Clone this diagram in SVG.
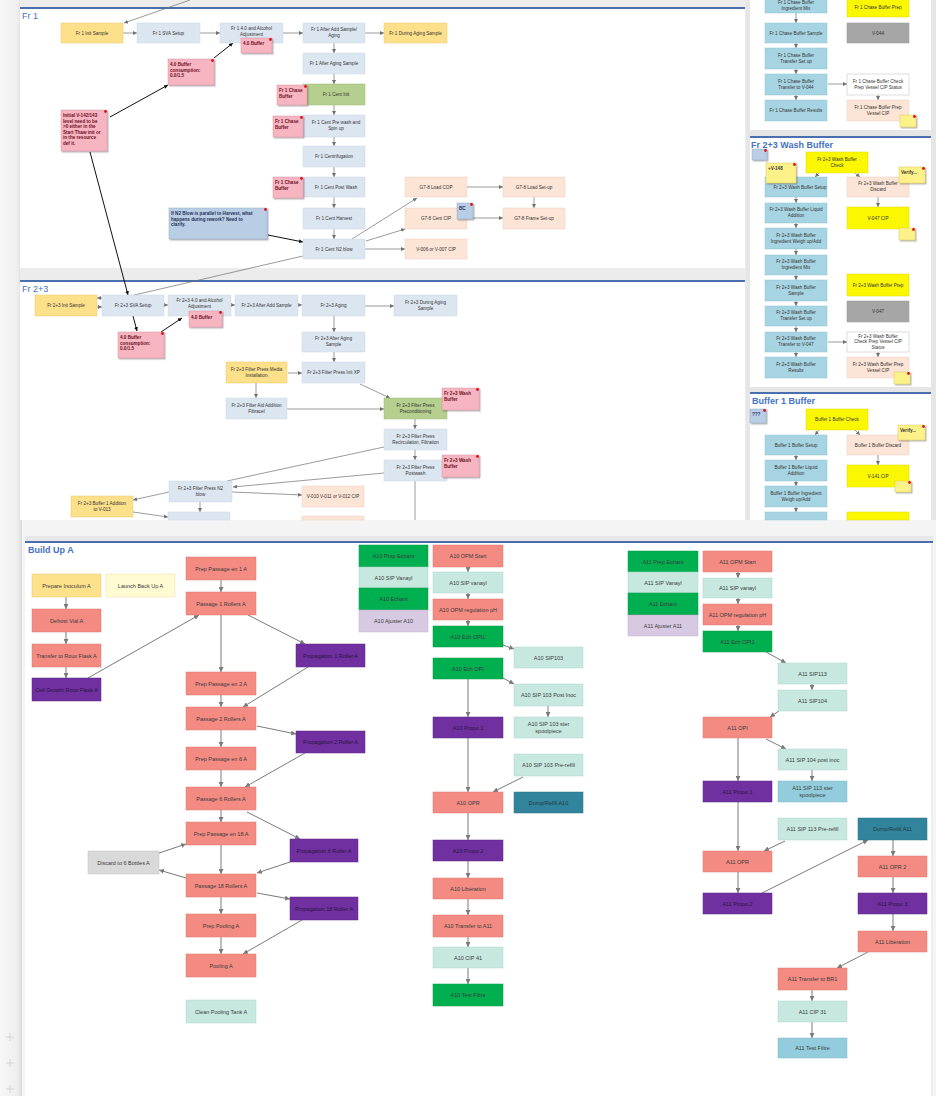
<svg xmlns="http://www.w3.org/2000/svg" width="936" height="1096" viewBox="0 0 936 1096">
<defs>
<style>
text{font-family:"Liberation Sans",Arial,sans-serif}
.t{font-size:4.6px;fill:#333;text-anchor:middle}
.tn{font-size:4.6px;fill:#6d0f1e;font-weight:bold}
.tbn{font-size:4.6px;fill:#1f2f55;font-weight:bold}
.b{font-size:5.5px;fill:#3a3a3a;text-anchor:middle}
.bp{font-size:5.5px;fill:#2a1540;text-anchor:middle}
.title{font-size:9px;fill:#4472c4}
.titleb{font-size:9px;fill:#4472c4;font-weight:bold}
.fr{fill:#dce6f1;stroke:#cbd7e6;stroke-width:0.5}
.yl{fill:#fde08a;stroke:#e8c86a;stroke-width:0.5}
.pk{fill:#f7b5c2;stroke:#d895a3;stroke-width:0.5;filter:url(#sh)}
.pe{fill:#fce4d6;stroke:#ecd0c0;stroke-width:0.5}
.gr{fill:#b5cf8e;stroke:#a0bb7a;stroke-width:0.5}
.bn{fill:#b9cde5;stroke:#95acc9;stroke-width:0.5;filter:url(#sh)}
.tb{fill:#a7d4e2;stroke:#8fc1d1;stroke-width:0.5}
.by{fill:#fbf700;stroke:#dcd800;stroke-width:0.5}
.gy{fill:#a6a6a6;stroke:#999;stroke-width:0.5}
.wh{fill:#ffffff;stroke:#bdbdbd;stroke-width:0.5}
.ys{fill:#fdf28a;stroke:#d8c860;stroke-width:0.5;filter:url(#sh)}
.sa{fill:#f38b83;stroke:#e07a72;stroke-width:0.5}
.pu{fill:#7030a0;stroke:#5e2488;stroke-width:0.5}
.mi{fill:#c6e8df;stroke:#b0d6cc;stroke-width:0.5}
.gn{fill:#00b050;stroke:#009a45;stroke-width:0.5}
.la{fill:#d8c9e2;stroke:#c6b5d2;stroke-width:0.5}
.te{fill:#31849b;stroke:#2a7389;stroke-width:0.5}
.lb{fill:#93cddd;stroke:#7fbccc;stroke-width:0.5}
.dg{fill:#d9d9d9;stroke:#c4c4c4;stroke-width:0.5}
.ly{fill:#fffbd2;stroke:#e9e2a8;stroke-width:0.5}
.dot{fill:#e0101a}
.c{fill:none;stroke:#707070;stroke-width:0.7;marker-end:url(#a)}
.cn{fill:none;stroke:#707070;stroke-width:0.7}
.ck{fill:none;stroke:#111;stroke-width:1;marker-end:url(#k)}
.ckn{fill:none;stroke:#111;stroke-width:1}
.cb{fill:none;stroke:#7a7a7a;stroke-width:1;marker-end:url(#ab)}
.sep{stroke:#4a6fae;stroke-width:2}
</style>
<marker id="a" markerUnits="userSpaceOnUse" markerWidth="4" markerHeight="4" refX="4" refY="2" orient="auto"><path d="M0,0 L4,2 L0,4 z" fill="#707070"/></marker>
<marker id="k" markerUnits="userSpaceOnUse" markerWidth="4" markerHeight="4" refX="4" refY="2" orient="auto"><path d="M0,0 L4,2 L0,4 z" fill="#111"/></marker>
<marker id="ab" markerUnits="userSpaceOnUse" markerWidth="5" markerHeight="5" refX="5" refY="2.5" orient="auto"><path d="M0,0 L5,2.5 L0,5 z" fill="#7a7a7a"/></marker>
<filter id="sh" x="-20%" y="-20%" width="150%" height="150%"><feDropShadow dx="1.2" dy="1.2" stdDeviation="0.5" flood-color="#000" flood-opacity="0.35"/></filter>
<linearGradient id="lm" x1="0" x2="1" y1="0" y2="0"><stop offset="0" stop-color="#f7f7f7"/><stop offset="0.8" stop-color="#eeeeee"/><stop offset="1" stop-color="#d9d9d9"/></linearGradient>
</defs>

<!-- backgrounds -->
<rect x="0" y="0" width="936" height="1096" fill="#f4f4f4"/>
<rect x="0" y="0" width="22" height="1096" fill="url(#lm)"/>
<rect x="20" y="0" width="726" height="520" fill="#ececec"/>
<rect x="20" y="9" width="725" height="259" fill="#ffffff"/>
<rect x="20" y="282" width="725" height="238" fill="#ffffff"/>
<line class="sep" x1="20" y1="8" x2="745" y2="8"/>
<line class="sep" x1="20" y1="281" x2="745" y2="281"/>
<rect x="746" y="0" width="190" height="520" fill="#e6e6e6"/>
<rect x="750" y="0" width="181" height="130" fill="#ffffff"/>
<rect x="750" y="138" width="181" height="249" fill="#ffffff"/>
<rect x="750" y="394" width="181" height="126" fill="#ffffff"/>
<line class="sep" x1="750" y1="137" x2="931" y2="137"/>
<line class="sep" x1="750" y1="393" x2="931" y2="393"/>
<rect x="25" y="536" width="908" height="560" fill="#ffffff"/>
<rect x="25" y="536" width="908" height="5" fill="#e8e8e8"/>
<line class="sep" x1="25" y1="542" x2="933" y2="542"/>
<line x1="932" y1="543" x2="932" y2="1096" stroke="#dcdcdc" stroke-width="1"/>
<g stroke="#c8c8c8" stroke-width="0.7">
<line x1="6" y1="1037" x2="14" y2="1037"/><line x1="10" y1="1033" x2="10" y2="1041"/>
<line x1="6" y1="1063" x2="14" y2="1063"/><line x1="10" y1="1059" x2="10" y2="1067"/>
<line x1="6" y1="1089" x2="14" y2="1089"/><line x1="10" y1="1085" x2="10" y2="1093"/>
</g>

<text class="title" x="22" y="19">Fr 1</text>
<text class="title" x="22" y="292">Fr 2+3</text>
<text class="titleb" x="751" y="148">Fr 2+3 Wash Buffer</text>
<text class="titleb" x="752" y="404">Buffer 1 Buffer</text>
<text class="titleb" x="28" y="553" font-size="10">Build Up A</text>

<!-- connectors -->
<g id="connectors">
<path class="c" d="M190,0 L124,23"/>
<path class="c" d="M123,33 L137,33"/>
<path class="c" d="M200,33 L220,33"/>
<path class="c" d="M283,33 L303,33"/>
<path class="c" d="M365,33 L384,33"/>
<path class="c" d="M334,43 L334,53"/>
<path class="c" d="M334,74 L334,84"/>
<path class="c" d="M334,105 L334,115"/>
<path class="c" d="M334,137 L334,146"/>
<path class="c" d="M334,167 L334,177"/>
<path class="c" d="M334,197 L334,208"/>
<path class="c" d="M334,229 L334,239"/>
<path class="ck" d="M110,117 L168,85"/>
<path class="ck" d="M214,58 L233,43"/>
<path class="ck" d="M268,235 L303,242"/>
<path class="ck" d="M90,152 L128,295"/>
<path class="cn" d="M303,256 L130,296"/>
<path class="c" d="M352,239 L417,198"/>
<path class="c" d="M366,241 L405,229"/>
<path class="c" d="M365,249 L405,249"/>
<path class="c" d="M467,187 L503,187"/>
<path class="c" d="M534,197 L534,208"/>
<path class="c" d="M473,218 L503,218"/>
<!-- Fr 2+3 -->
<path class="c" d="M102,298 L97,298"/>
<path class="c" d="M97,307 L102,307"/>
<path class="c" d="M164,305 L168,305"/>
<path class="c" d="M231,305 L235,305"/>
<path class="c" d="M298,305 L302,305"/>
<path class="c" d="M365,306 L394,306"/>
<path class="ck" d="M133,316 L137,331"/>
<path class="ck" d="M161,332 L182,318"/>
<path class="c" d="M334,316 L334,332"/>
<path class="c" d="M334,352 L334,362"/>
<path class="c" d="M288,373 L302,373"/>
<path class="c" d="M256,383 L256,398"/>
<path class="c" d="M360,384 L390,398"/>
<path class="c" d="M287,409 L384,409"/>
<path class="c" d="M415,419 L415,429"/>
<path class="c" d="M415,450 L415,460"/>
<path class="cn" d="M415,481 L415,520"/>
<path class="cn" d="M384,447 L227,481"/>
<path class="c" d="M384,473 L233,487"/>
<path class="c" d="M232,492 L302,495"/>
<path class="c" d="M169,492 L133,500"/>
<path class="c" d="M200,502 L200,512"/>
<path class="c" d="M133,512 L168,517"/>
<!-- right panels -->
<path class="c" d="M796,13 L796,23"/>
<path class="c" d="M796,43 L796,48"/>
<path class="c" d="M796,69 L796,74"/>
<path class="c" d="M796,95 L796,100"/>
<path class="c" d="M828,84 L847,84"/>
<path class="c" d="M878,95 L878,100"/>
<path class="c" d="M819,173 L815,177"/>
<path class="c" d="M855,173 L860,177"/>
<path class="c" d="M878,197 L878,207"/>
<path class="c" d="M796,197 L796,203"/>
<path class="c" d="M796,223 L796,228"/>
<path class="c" d="M796,249 L796,255"/>
<path class="c" d="M796,275 L796,280"/>
<path class="c" d="M796,301 L796,306"/>
<path class="c" d="M796,326 L796,332"/>
<path class="c" d="M796,352 L796,357"/>
<path class="c" d="M828,342 L847,342"/>
<path class="c" d="M878,352 L878,357"/>
<path class="c" d="M819,430 L815,435"/>
<path class="c" d="M855,430 L860,435"/>
<path class="c" d="M878,455 L878,465"/>
<path class="c" d="M796,455 L796,460"/>
<path class="c" d="M796,481 L796,486"/>
<path class="c" d="M796,507 L796,512"/>
<!-- Build Up A -->
<path class="cb" d="M66,597 L66,609"/>
<path class="cb" d="M66,632 L66,644"/>
<path class="cb" d="M66,667 L66,678"/>
<path class="cb" d="M88,678 L199,615"/>
<path class="cb" d="M221,580 L221,592"/>
<path class="cb" d="M221,615 L221,672"/>
<path class="cb" d="M248,615 L305,644"/>
<path class="cb" d="M308,667 L243,707"/>
<path class="cb" d="M221,695 L221,707"/>
<path class="cb" d="M257,726 L296,734"/>
<path class="cb" d="M221,730 L221,747"/>
<path class="cb" d="M305,753 L245,787"/>
<path class="cb" d="M221,770 L221,787"/>
<path class="cb" d="M221,810 L221,822"/>
<path class="cb" d="M247,812 L300,839"/>
<path class="cb" d="M221,845 L221,874"/>
<path class="cb" d="M159,853 L186,844"/>
<path class="cb" d="M186,878 L159,870"/>
<path class="cb" d="M290,862 L257,873"/>
<path class="cb" d="M257,893 L290,899"/>
<path class="cb" d="M221,897 L221,914"/>
<path class="cb" d="M221,937 L221,954"/>
<path class="cb" d="M302,920 L243,954"/>
<!-- A10 -->
<path class="cb" d="M468,567 L468,572"/>
<path class="cb" d="M468,593 L468,599"/>
<path class="cb" d="M468,620 L468,626"/>
<path class="cb" d="M503,645 L514,649"/>
<path class="cb" d="M503,678 L514,684"/>
<path class="cb" d="M548,706 L548,717"/>
<path class="cb" d="M468,679 L468,717"/>
<path class="cb" d="M468,738 L468,792"/>
<path class="cb" d="M523,777 L493,792"/>
<path class="cb" d="M468,813 L468,840"/>
<path class="cb" d="M468,861 L468,878"/>
<path class="cb" d="M468,899 L468,915"/>
<path class="cb" d="M468,937 L468,947"/>
<path class="cb" d="M468,968 L468,984"/>
<!-- A11 -->
<path class="cb" d="M738,572 L738,578"/>
<path class="cb" d="M738,598 L738,604"/>
<path class="cb" d="M738,625 L738,631"/>
<path class="cb" d="M766,652 L786,663"/>
<path class="cb" d="M812,684 L812,690"/>
<path class="cb" d="M779,711 L770,717"/>
<path class="cb" d="M766,739 L786,749"/>
<path class="cb" d="M812,770 L812,781"/>
<path class="cb" d="M738,738 L738,781"/>
<path class="cb" d="M738,802 L738,851"/>
<path class="cb" d="M785,841 L764,851"/>
<path class="cb" d="M738,872 L738,893"/>
<path class="cb" d="M762,893 L868,840"/>
<path class="cb" d="M893,840 L893,856"/>
<path class="cb" d="M893,877 L893,893"/>
<path class="cb" d="M893,914 L893,931"/>
<path class="cb" d="M868,952 L837,968"/>
<path class="cb" d="M812,990 L812,1001"/>
<path class="cb" d="M812,1022 L812,1038"/>
</g>

<!-- Fr 1 nodes -->
<g id="f1_init"><rect class="yl" x="61" y="23" width="62" height="20"/><text class="t" x="92" y="34.5">Fr 1 Init Sample</text></g>
<g id="f1_sva"><rect class="fr" x="137" y="23" width="63" height="20"/><text class="t" x="168.5" y="34.5">Fr 1 SVA Setup</text></g>
<g id="f1_adj"><rect class="fr" x="220" y="23" width="63" height="20"/><text class="t" x="251.5" y="30">Fr 1 4.0 and Alcohol</text><text class="t" x="251.5" y="35.5">Adjustment</text></g>
<g id="f1_buf"><rect class="pk" x="241" y="38" width="31" height="15"/><circle class="dot" cx="270.5" cy="39.5" r="1.4"/><text class="tn" x="243" y="45">4.0 Buffer</text></g>
<g id="f1_after"><rect class="fr" x="303" y="23" width="62" height="20"/><text class="t" x="334" y="31">Fr 1 After Add Sample/</text><text class="t" x="334" y="37">Aging</text></g>
<g id="f1_during"><rect class="yl" x="384" y="23" width="63" height="20"/><text class="t" x="415.5" y="34.5">Fr 1 During Aging Sample</text></g>
<g id="f1_cons"><rect class="pk" x="168" y="59" width="46" height="26"/><circle class="dot" cx="212.5" cy="60.5" r="1.4"/><text class="tn" x="170" y="66">4.0 Buffer</text><text class="tn" x="170" y="71.5">consumption:</text><text class="tn" x="170" y="77">0.0/1.5</text></g>
<g id="f1_note_init"><rect class="pk" x="61" y="110" width="46" height="41"/><circle class="dot" cx="105.5" cy="111.5" r="1.4"/><text class="tn" x="63" y="117">Initial V-142/143</text><text class="tn" x="63" y="122.5">level need to be</text><text class="tn" x="63" y="128">&gt;0 either in the</text><text class="tn" x="63" y="133.5">Start Thaw init or</text><text class="tn" x="63" y="139">in the resource</text><text class="tn" x="63" y="144.5">def it.</text></g>
<g id="f1_aas"><rect class="fr" x="303" y="53" width="62" height="21"/><text class="t" x="334" y="65">Fr 1 After Aging Sample</text></g>
<g id="f1_cinit"><rect class="gr" x="303" y="84" width="62" height="21"/><text class="t" x="336" y="96">Fr 1 Cent Init</text></g>
<g id="f1_chase1"><rect class="pk" x="277" y="85" width="30" height="20"/><circle class="dot" cx="305.5" cy="86.5" r="1.4"/><text class="tn" x="279" y="92">Fr 1 Chase</text><text class="tn" x="279" y="97.5">Buffer</text></g>
<g id="f1_prewash"><rect class="fr" x="303" y="115" width="62" height="22"/><text class="t" x="336" y="124">Fr 1 Cent Pre wash and</text><text class="t" x="336" y="130">Spin up</text></g>
<g id="f1_chase2"><rect class="pk" x="273" y="116" width="30" height="21"/><circle class="dot" cx="301.5" cy="117.5" r="1.4"/><text class="tn" x="275" y="123">Fr 1 Chase</text><text class="tn" x="275" y="128.5">Buffer</text></g>
<g id="f1_centri"><rect class="fr" x="303" y="146" width="62" height="21"/><text class="t" x="334" y="158">Fr 1 Centrifugation</text></g>
<g id="f1_post"><rect class="fr" x="303" y="177" width="62" height="20"/><text class="t" x="336" y="188.5">Fr 1 Cent Post Wash</text></g>
<g id="f1_chase3"><rect class="pk" x="273" y="177" width="30" height="21"/><circle class="dot" cx="301.5" cy="178.5" r="1.4"/><text class="tn" x="275" y="184">Fr 1 Chase</text><text class="tn" x="275" y="189.5">Buffer</text></g>
<g id="f1_harv"><rect class="fr" x="303" y="208" width="62" height="21"/><text class="t" x="334" y="220">Fr 1 Cent Harvest</text></g>
<g id="f1_n2"><rect class="fr" x="303" y="239" width="62" height="20"/><text class="t" x="334" y="250.5">Fr 1 Cent N2 blow</text></g>
<g id="f1_note_n2"><rect class="bn" x="169" y="208" width="98" height="31"/><circle class="dot" cx="265.5" cy="209.5" r="1.4"/><text class="tbn" x="171" y="215">If N2 Blow is parallel to Harvest, what</text><text class="tbn" x="171" y="220.5">happens during rework?  Need to</text><text class="tbn" x="171" y="226">clarify.</text></g>
<g id="g78_lcop"><rect class="pe" x="405" y="177" width="62" height="20"/><text class="t" x="436" y="188.5">G7-8 Load COP</text></g>
<g id="g78_lset"><rect class="pe" x="503" y="177" width="62" height="20"/><text class="t" x="534" y="188.5">G7-8 Load Set-up</text></g>
<g id="g78_ccip"><rect class="pe" x="405" y="208" width="62" height="21"/><text class="t" x="436" y="220">G7-8 Cent CIP</text></g>
<g id="g78_bc"><rect class="bn" x="457" y="203" width="16" height="16"/><circle class="dot" cx="471.5" cy="204.5" r="1.4"/><text class="tbn" x="459" y="210">BC</text></g>
<g id="g78_fset"><rect class="pe" x="503" y="208" width="62" height="21"/><text class="t" x="534" y="220">G7-8 Frame Set-up</text></g>
<g id="v006"><rect class="pe" x="405" y="239" width="62" height="20"/><text class="t" x="436" y="250.5">V-006 or V-007 CIP</text></g>

<!-- Fr 2+3 nodes -->
<g id="f2_init"><rect class="yl" x="35" y="295" width="62" height="21"/><text class="t" x="66" y="307">Fr 2+3 Init Sample</text></g>
<g id="f2_sva"><rect class="fr" x="102" y="295" width="62" height="21"/><text class="t" x="133" y="307">Fr 2+3 SVA Setup</text></g>
<g id="f2_adj"><rect class="fr" x="168" y="295" width="63" height="21"/><text class="t" x="199.5" y="302">Fr 2+3 4.0 and Alcohol</text><text class="t" x="199.5" y="307.5">Adjustment</text></g>
<g id="f2_buf"><rect class="pk" x="189" y="311" width="33" height="16"/><circle class="dot" cx="220.5" cy="312.5" r="1.4"/><text class="tn" x="191" y="318.5">4.0 Buffer</text></g>
<g id="f2_after"><rect class="fr" x="235" y="295" width="63" height="21"/><text class="t" x="266.5" y="307">Fr 2+3 After Add Sample</text></g>
<g id="f2_aging"><rect class="fr" x="302" y="295" width="63" height="21"/><text class="t" x="333.5" y="307">Fr 2+3 Aging</text></g>
<g id="f2_during"><rect class="fr" x="394" y="295" width="63" height="21"/><text class="t" x="425.5" y="304">Fr 2+3 During Aging</text><text class="t" x="425.5" y="310">Sample</text></g>
<g id="f2_cons"><rect class="pk" x="118" y="332" width="46" height="26"/><circle class="dot" cx="162.5" cy="333.5" r="1.4"/><text class="tn" x="120" y="339">4.0 Buffer</text><text class="tn" x="120" y="344.5">consumption:</text><text class="tn" x="120" y="350">0.0/1.5</text></g>
<g id="f2_aas"><rect class="fr" x="302" y="332" width="63" height="20"/><text class="t" x="333.5" y="340">Fr 2+3 After Aging</text><text class="t" x="333.5" y="346">Sample</text></g>
<g id="f2_initxp"><rect class="fr" x="302" y="362" width="63" height="21"/><text class="t" x="333.5" y="374">Fr 2+3 Filter Press Init XP</text></g>
<g id="f2_media"><rect class="yl" x="226" y="362" width="61" height="21"/><text class="t" x="256.5" y="370.5">Fr 2+3 Filter Press Media</text><text class="t" x="256.5" y="376.5">Installation</text></g>
<g id="f2_aid"><rect class="fr" x="226" y="398" width="61" height="21"/><text class="t" x="256.5" y="406.5">Fr 2+3 Filter Aid Addition</text><text class="t" x="256.5" y="412.5">Fibracel</text></g>
<g id="f2_precond"><rect class="gr" x="384" y="398" width="63" height="21"/><text class="t" x="415.5" y="406.5">Fr 2+3 Filter Press</text><text class="t" x="415.5" y="412.5">Preconditioning</text></g>
<g id="f2_wash1"><rect class="pk" x="442" y="388" width="37" height="22"/><circle class="dot" cx="477.5" cy="389.5" r="1.4"/><text class="tn" x="444" y="395">Fr 2+3 Wash</text><text class="tn" x="444" y="400.5">Buffer</text></g>
<g id="f2_recirc"><rect class="fr" x="384" y="429" width="63" height="21"/><text class="t" x="415.5" y="437.5">Fr 2+3 Filter Press</text><text class="t" x="415.5" y="443.5">Recirculation, Filtration</text></g>
<g id="f2_postwash"><rect class="fr" x="384" y="460" width="63" height="21"/><text class="t" x="415.5" y="468.5">Fr 2+3 Filter Press</text><text class="t" x="415.5" y="474.5">Postwash</text></g>
<g id="f2_wash2"><rect class="pk" x="442" y="455" width="37" height="22"/><circle class="dot" cx="477.5" cy="456.5" r="1.4"/><text class="tn" x="444" y="462">Fr 2+3 Wash</text><text class="tn" x="444" y="467.5">Buffer</text></g>
<g id="f2_n2"><rect class="fr" x="169" y="481" width="63" height="21"/><text class="t" x="200.5" y="489.5">Fr 2+3 Filter Press N2</text><text class="t" x="200.5" y="495.5">blow</text></g>
<g id="f2_v010"><rect class="pe" x="302" y="486" width="62" height="21"/><text class="t" x="333" y="498">V-010 V-011 or V-012 CIP</text></g>
<g id="f2_buf1"><rect class="yl" x="71" y="496" width="62" height="21"/><text class="t" x="102" y="504.5">Fr 2+3 Buffer 1 Addition</text><text class="t" x="102" y="510.5">to V-013</text></g>
<g id="f2_clip1"><rect class="fr" x="168" y="512" width="62" height="8"/></g>
<g id="f2_clip2"><rect class="pe" x="302" y="516" width="62" height="4"/></g>

<!-- Right panel 1 -->
<g id="r1_mix"><rect class="tb" x="765" y="-2" width="62" height="15"/><text class="t" x="796" y="4">Fr 1 Chase Buffer</text><text class="t" x="796" y="10">Ingredient Mix</text></g>
<g id="r1_prep"><rect class="by" x="847" y="-2" width="62" height="19"/><text class="t" x="878" y="8.5">Fr 1 Chase Buffer Prep</text></g>
<g id="r1_v044"><rect class="gy" x="847" y="23" width="62" height="20"/><text class="t" x="878" y="34.5">V-044</text></g>
<g id="r1_sample"><rect class="tb" x="765" y="23" width="62" height="20"/><text class="t" x="796" y="34.5">Fr 1 Chase Buffer Sample</text></g>
<g id="r1_tset"><rect class="tb" x="765" y="48" width="62" height="21"/><text class="t" x="796" y="56.5">Fr 1 Chase Buffer</text><text class="t" x="796" y="62.5">Transfer Set up</text></g>
<g id="r1_tv044"><rect class="tb" x="765" y="74" width="62" height="21"/><text class="t" x="796" y="82.5">Fr 1 Chase Buffer</text><text class="t" x="796" y="88.5">Transfer to V-044</text></g>
<g id="r1_results"><rect class="tb" x="765" y="100" width="62" height="21"/><text class="t" x="796" y="112">Fr 1 Chase Buffer Results</text></g>
<g id="r1_check"><rect class="wh" x="847" y="74" width="62" height="21"/><text class="t" x="878" y="82.5">Fr 1 Chase Buffer Check</text><text class="t" x="878" y="88.5">Prep Vessel CIP Status</text></g>
<g id="r1_pvcip"><rect class="pe" x="847" y="100" width="62" height="21"/><text class="t" x="878" y="108.5">Fr 1 Chase Buffer Prep</text><text class="t" x="878" y="114.5">Vessel CIP</text></g>
<g id="r1_sticky"><rect class="ys" x="900" y="115" width="16" height="12"/><circle class="dot" cx="914.5" cy="116.5" r="1.4"/></g>

<!-- Right panel 2 -->
<g id="r2_blue"><rect class="bn" x="752" y="149" width="15" height="11"/><circle class="dot" cx="765.5" cy="150.5" r="1.4"/></g>
<g id="r2_check"><rect class="by" x="806" y="152" width="62" height="21"/><text class="t" x="837" y="160.5">Fr 2+3 Wash Buffer</text><text class="t" x="837" y="166.5">Check</text></g>
<g id="r2_setup"><rect class="tb" x="765" y="177" width="62" height="20"/><text class="t" x="800" y="188.5">Fr 2+3 Wash Buffer Setup</text></g>
<g id="r2_v148"><rect class="ys" x="766" y="163" width="30" height="20"/><circle class="dot" cx="794.5" cy="164.5" r="1.4"/><text class="tn" x="768" y="169.5" fill="#333" style="fill:#333">+V-148</text></g>
<g id="r2_discard"><rect class="pe" x="847" y="177" width="62" height="20"/><text class="t" x="878" y="185">Fr 2+3 Wash Buffer</text><text class="t" x="878" y="191">Discard</text></g>
<g id="r2_verify"><rect class="ys" x="899" y="167" width="26" height="16"/><circle class="dot" cx="923.5" cy="168.5" r="1.4"/><text class="tn" x="901" y="174" style="fill:#333">Verify...</text></g>
<g id="r2_v047cip"><rect class="by" x="847" y="207" width="62" height="22"/><text class="t" x="878" y="219.5">V-047 CIP</text></g>
<g id="r2_sticky2"><rect class="ys" x="899" y="228" width="16" height="12"/><circle class="dot" cx="913.5" cy="229.5" r="1.4"/></g>
<g id="r2_liq"><rect class="tb" x="765" y="203" width="62" height="20"/><text class="t" x="796" y="211">Fr 2+3 Wash Buffer Liquid</text><text class="t" x="796" y="217">Addition</text></g>
<g id="r2_weigh"><rect class="tb" x="765" y="228" width="62" height="21"/><text class="t" x="796" y="236.5">Fr 2+3 Wash Buffer</text><text class="t" x="796" y="242.5">Ingredient Weigh up/Add</text></g>
<g id="r2_mix"><rect class="tb" x="765" y="255" width="62" height="20"/><text class="t" x="796" y="263">Fr 2+3 Wash Buffer</text><text class="t" x="796" y="269">Ingredient Mix</text></g>
<g id="r2_sample"><rect class="tb" x="765" y="280" width="62" height="21"/><text class="t" x="796" y="288.5">Fr 2+3 Wash Buffer</text><text class="t" x="796" y="294.5">Sample</text></g>
<g id="r2_tset"><rect class="tb" x="765" y="306" width="62" height="20"/><text class="t" x="796" y="314">Fr 2+3 Wash Buffer</text><text class="t" x="796" y="320">Transfer Set up</text></g>
<g id="r2_tv047"><rect class="tb" x="765" y="332" width="62" height="20"/><text class="t" x="796" y="340">Fr 2+3 Wash Buffer</text><text class="t" x="796" y="346">Transfer to V-047</text></g>
<g id="r2_results"><rect class="tb" x="765" y="357" width="62" height="21"/><text class="t" x="796" y="365.5">Fr 2+3 Wash Buffer</text><text class="t" x="796" y="371.5">Results</text></g>
<g id="r2_prep"><rect class="by" x="847" y="274" width="62" height="22"/><text class="t" x="878" y="286.5">Fr 2+3 Wash Buffer Prep</text></g>
<g id="r2_v047"><rect class="gy" x="847" y="301" width="62" height="21"/><text class="t" x="878" y="313">V-047</text></g>
<g id="r2_checkcip"><rect class="wh" x="847" y="332" width="62" height="20"/><text class="t" x="878" y="337.5">Fr 2+3 Wash Buffer</text><text class="t" x="878" y="343.3">Check Prep Vessel CIP</text><text class="t" x="878" y="349.1">Status</text></g>
<g id="r2_pvcip"><rect class="pe" x="847" y="357" width="62" height="21"/><text class="t" x="878" y="365.5">Fr 2+3 Wash Buffer Prep</text><text class="t" x="878" y="371.5">Vessel CIP</text></g>
<g id="r2_sticky3"><rect class="ys" x="894" y="372" width="16" height="12"/><circle class="dot" cx="908.5" cy="373.5" r="1.4"/></g>

<!-- Right panel 3 -->
<g id="r3_q"><rect class="bn" x="750" y="409" width="16" height="14"/><circle class="dot" cx="764.5" cy="410.5" r="1.4"/><text class="tbn" x="752" y="416">???</text></g>
<g id="r3_check"><rect class="by" x="806" y="409" width="62" height="21"/><text class="t" x="837" y="421">Buffer 1 Buffer Check</text></g>
<g id="r3_setup"><rect class="tb" x="765" y="435" width="62" height="20"/><text class="t" x="796" y="446.5">Buffer 1 Buffer Setup</text></g>
<g id="r3_discard"><rect class="pe" x="847" y="435" width="62" height="20"/><text class="t" x="878" y="446.5">Buffer 1 Buffer Discard</text></g>
<g id="r3_verify"><rect class="ys" x="898" y="425" width="27" height="15"/><circle class="dot" cx="923.5" cy="426.5" r="1.4"/><text class="tn" x="900" y="432" style="fill:#333">Verify...</text></g>
<g id="r3_v141"><rect class="by" x="847" y="465" width="62" height="22"/><text class="t" x="878" y="477.5">V-141 CIP</text></g>
<g id="r3_sticky"><rect class="ys" x="895" y="481" width="16" height="11"/><circle class="dot" cx="909.5" cy="482.5" r="1.4"/></g>
<g id="r3_liq"><rect class="tb" x="765" y="460" width="62" height="21"/><text class="t" x="796" y="468.5">Buffer 1 Buffer Liquid</text><text class="t" x="796" y="474.5">Addition</text></g>
<g id="r3_weigh"><rect class="tb" x="765" y="486" width="62" height="21"/><text class="t" x="796" y="494.5">Buffer 1 Buffer Ingredient</text><text class="t" x="796" y="500.5">Weigh up/Add</text></g>
<g id="r3_clip1"><rect class="tb" x="765" y="512" width="62" height="8"/></g>
<g id="r3_clip2"><rect class="by" x="847" y="512" width="62" height="8"/></g>

<!-- Build Up A nodes -->
<g id="b_prep_inoc"><rect x="32" y="574" width="69" height="23" fill="#fde18b" stroke="#e8c96c" stroke-width="0.5"/><text class="b" x="66.5" y="587.5">Prepare Inoculum A</text></g>
<g id="b_launch"><rect class="ly" x="106" y="574" width="69" height="23"/><text class="b" x="140.5" y="587.5">Launch Back Up A</text></g>
<g id="b_defrost"><rect class="sa" x="32" y="609" width="69" height="23"/><text class="b" x="66.5" y="622.5">Defrost Vial A</text></g>
<g id="b_transfer"><rect class="sa" x="32" y="644" width="69" height="23"/><text class="b" x="66.5" y="657.5">Transfer to Roux Flask A</text></g>
<g id="b_cellgrowth"><rect class="pu" x="32" y="678" width="69" height="23"/><text class="bp" x="66.5" y="691.5">Cell Growth Roux Flask A</text></g>
<g id="b_ppe1"><rect class="sa" x="186" y="557" width="70" height="23"/><text class="b" x="221" y="570.5">Prep Passage en 1 A</text></g>
<g id="b_p1"><rect class="sa" x="186" y="592" width="70" height="23"/><text class="b" x="221" y="605.5">Passage 1 Rollers A</text></g>
<g id="b_ppe2"><rect class="sa" x="186" y="672" width="70" height="23"/><text class="b" x="221" y="685.5">Prep Passage en 2 A</text></g>
<g id="b_p2"><rect class="sa" x="186" y="707" width="70" height="23"/><text class="b" x="221" y="720.5">Passage 2 Rollers A</text></g>
<g id="b_ppe6"><rect class="sa" x="186" y="747" width="70" height="23"/><text class="b" x="221" y="760.5">Prep Passage en 6 A</text></g>
<g id="b_p6"><rect class="sa" x="186" y="787" width="70" height="23"/><text class="b" x="221" y="800.5">Passage 6 Rollers A</text></g>
<g id="b_ppe18"><rect class="sa" x="186" y="822" width="70" height="23"/><text class="b" x="221" y="835.5">Prep Passage en 18 A</text></g>
<g id="b_p18"><rect class="sa" x="186" y="874" width="70" height="23"/><text class="b" x="221" y="887.5">Passage 18 Rollers A</text></g>
<g id="b_ppool"><rect class="sa" x="186" y="914" width="70" height="23"/><text class="b" x="221" y="927.5">Prep Pooling A</text></g>
<g id="b_pool"><rect class="sa" x="186" y="954" width="70" height="23"/><text class="b" x="221" y="967.5">Pooling A</text></g>
<g id="b_clean"><rect class="mi" x="186" y="1000" width="70" height="23"/><text class="b" x="221" y="1013.5">Clean Pooling Tank A</text></g>
<g id="b_prop1"><rect class="pu" x="296" y="644" width="69" height="23"/><text class="bp" x="330.5" y="657.5">Propagation 1 Roller A</text></g>
<g id="b_prop2"><rect class="pu" x="296" y="731" width="69" height="22"/><text class="bp" x="330.5" y="744">Propagation 2 Roller A</text></g>
<g id="b_prop6"><rect class="pu" x="290" y="839" width="68" height="23"/><text class="bp" x="324" y="852.5">Propagation 6 Roller A</text></g>
<g id="b_prop18"><rect class="pu" x="290" y="897" width="68" height="23"/><text class="bp" x="324" y="910.5">Propagation 18 Roller A</text></g>
<g id="b_discard"><rect class="dg" x="88" y="851" width="71" height="23"/><text class="b" x="123.5" y="864.5">Discard to 6 Bottles A</text></g>

<!-- A10 -->
<g id="a10_prep_echant"><rect class="gn" x="359" y="545" width="69" height="22"/><text class="b" x="393.5" y="558">A10 Prep Echant</text></g>
<g id="a10_sip_vanayl1"><rect class="mi" x="359" y="567" width="69" height="21"/><text class="b" x="393.5" y="579.5">A10 SIP Vanayl</text></g>
<g id="a10_echant"><rect class="gn" x="359" y="588" width="69" height="22"/><text class="b" x="393.5" y="601">A10 Echant</text></g>
<g id="a10_ajuster"><rect class="la" x="359" y="610" width="69" height="22"/><text class="b" x="393.5" y="623">A10 Ajuster A10</text></g>
<g id="a10_opm_start"><rect class="sa" x="433" y="545" width="70" height="22"/><text class="b" x="468" y="558">A10 OPM Start</text></g>
<g id="a10_sip_vanayl2"><rect class="mi" x="433" y="572" width="70" height="21"/><text class="b" x="468" y="584.5">A10 SIP vanayl</text></g>
<g id="a10_opm_reg"><rect class="sa" x="433" y="599" width="70" height="21"/><text class="b" x="468" y="611.5">A10 OPM regulation pH</text></g>
<g id="a10_ech_opi1"><rect class="gn" x="433" y="626" width="70" height="21"/><text class="b" x="468" y="638.5">A10 Ech OPI1</text></g>
<g id="a10_sip103"><rect class="mi" x="514" y="647" width="69" height="21"/><text class="b" x="548.5" y="659.5">A10 SIP103</text></g>
<g id="a10_ech_opi"><rect class="gn" x="433" y="658" width="70" height="21"/><text class="b" x="468" y="670.5">A10 Ech OPI</text></g>
<g id="a10_sip103_post"><rect class="mi" x="514" y="684" width="69" height="22"/><text class="b" x="548.5" y="697">A10 SIP 103 Post Inoc</text></g>
<g id="a10_sip103_ster"><rect class="mi" x="514" y="717" width="69" height="21"/><text class="b" x="548.5" y="726">A10 SIP 103 ster</text><text class="b" x="548.5" y="732.5">spoolpiece</text></g>
<g id="a10_propo1"><rect class="pu" x="433" y="717" width="70" height="21"/><text class="bp" x="468" y="729.5">A10 Propo 1</text></g>
<g id="a10_sip103_pre"><rect class="mi" x="514" y="754" width="69" height="22"/><text class="b" x="548.5" y="767">A10 SIP 103 Pre-refill</text></g>
<g id="a10_opr"><rect class="sa" x="433" y="792" width="70" height="21"/><text class="b" x="468" y="804.5">A10 OPR</text></g>
<g id="a10_dump"><rect class="te" x="514" y="792" width="69" height="21"/><text class="b" x="548.5" y="804.5" style="fill:#1c3c48">Dump/Refill A10</text></g>
<g id="a10_propo2"><rect class="pu" x="433" y="840" width="70" height="21"/><text class="bp" x="468" y="852.5">A10 Propo 2</text></g>
<g id="a10_lib"><rect class="sa" x="433" y="878" width="70" height="21"/><text class="b" x="468" y="890.5">A10 Libération</text></g>
<g id="a10_transfer"><rect class="sa" x="433" y="915" width="70" height="22"/><text class="b" x="468" y="928">A10 Transfer to A11</text></g>
<g id="a10_cip41"><rect class="mi" x="433" y="947" width="70" height="21"/><text class="b" x="468" y="959.5">A10 CIP 41</text></g>
<g id="a10_test"><rect class="gn" x="433" y="984" width="70" height="22"/><text class="b" x="468" y="997">A10 Test Filtre</text></g>

<!-- A11 -->
<g id="a11_prep_echant"><rect class="gn" x="628" y="551" width="70" height="21"/><text class="b" x="663" y="563.5">A11 Prep Echant</text></g>
<g id="a11_sip_vanayl1"><rect class="mi" x="628" y="572" width="70" height="21"/><text class="b" x="663" y="584.5">A11 SIP Vanayl</text></g>
<g id="a11_echant"><rect class="gn" x="628" y="593" width="70" height="22"/><text class="b" x="663" y="606">A11 Echant</text></g>
<g id="a11_ajuster"><rect class="la" x="628" y="615" width="70" height="21"/><text class="b" x="663" y="627.5">A11 Ajuster A11</text></g>
<g id="a11_opm_start"><rect class="sa" x="703" y="551" width="69" height="21"/><text class="b" x="737.5" y="563.5">A11 OPM Start</text></g>
<g id="a11_sip_vanayl2"><rect class="mi" x="703" y="578" width="69" height="20"/><text class="b" x="737.5" y="590">A11 SIP vanayl</text></g>
<g id="a11_opm_reg"><rect class="sa" x="703" y="604" width="69" height="21"/><text class="b" x="737.5" y="616.5">A11 OPM regulation pH</text></g>
<g id="a11_ech_opi1"><rect class="gn" x="703" y="631" width="69" height="21"/><text class="b" x="737.5" y="643.5">A11 Ech OPI1</text></g>
<g id="a11_sip113"><rect class="mi" x="778" y="663" width="69" height="21"/><text class="b" x="812.5" y="675.5">A11 SIP113</text></g>
<g id="a11_sip104"><rect class="mi" x="778" y="690" width="69" height="21"/><text class="b" x="812.5" y="702.5">A11 SIP104</text></g>
<g id="a11_opi"><rect class="sa" x="703" y="717" width="69" height="21"/><text class="b" x="737.5" y="729.5">A11 OPI</text></g>
<g id="a11_sip104_post"><rect class="mi" x="778" y="749" width="69" height="21"/><text class="b" x="812.5" y="761.5">A11 SIP 104 post inoc</text></g>
<g id="a11_propo1"><rect class="pu" x="703" y="781" width="69" height="21"/><text class="bp" x="737.5" y="793.5">A11 Propo 1</text></g>
<g id="a11_sip113_ster"><rect class="lb" x="778" y="781" width="69" height="21"/><text class="b" x="812.5" y="790">A11 SIP 113 ster</text><text class="b" x="812.5" y="796.5">spoolpiece</text></g>
<g id="a11_sip113_pre"><rect class="mi" x="778" y="818" width="69" height="22"/><text class="b" x="812.5" y="831">A11 SIP 113 Pre-refill</text></g>
<g id="a11_dump"><rect class="te" x="858" y="818" width="69" height="22"/><text class="b" x="892.5" y="831" style="fill:#1c3c48">Dump/Refill A11</text></g>
<g id="a11_opr"><rect class="sa" x="703" y="851" width="69" height="21"/><text class="b" x="737.5" y="863.5">A11 OPR</text></g>
<g id="a11_opr2"><rect class="sa" x="858" y="856" width="69" height="21"/><text class="b" x="892.5" y="868.5">A11 OPR 2</text></g>
<g id="a11_propo2"><rect class="pu" x="703" y="893" width="69" height="21"/><text class="bp" x="737.5" y="905.5">A11 Propo 2</text></g>
<g id="a11_propo3"><rect class="pu" x="858" y="893" width="69" height="21"/><text class="bp" x="892.5" y="905.5">A11 Propo 3</text></g>
<g id="a11_lib"><rect class="sa" x="858" y="931" width="69" height="21"/><text class="b" x="892.5" y="943.5">A11 Libération</text></g>
<g id="a11_transfer"><rect class="sa" x="778" y="968" width="69" height="22"/><text class="b" x="812.5" y="981">A11 Transfer to BR1</text></g>
<g id="a11_cip31"><rect class="mi" x="778" y="1001" width="69" height="21"/><text class="b" x="812.5" y="1013.5">A11 CIP 31</text></g>
<g id="a11_test"><rect class="lb" x="778" y="1038" width="69" height="20"/><text class="b" x="812.5" y="1050">A11 Test Filtre</text></g>
</svg>
